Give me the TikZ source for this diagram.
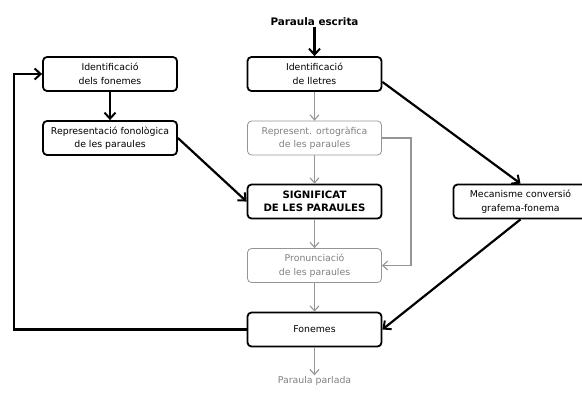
\documentclass[tikz,border=0pt]{standalone}
\usepackage{fontspec}
\setmainfont{DejaVu Sans}
\usetikzlibrary{arrows.meta}
\definecolor{lgray}{HTML}{959595}
\definecolor{tgray}{HTML}{808080}
\tikzset{
  txt/.style={font=\fontsize{9.4}{13.5}\selectfont},
  box/.style={draw=black, line width=1.8bp, rounded corners=4bp, minimum width=134bp, minimum height=34bp, align=center, inner sep=1bp, txt},
  gbox/.style={box, draw=lgray, line width=0.8bp, text=tgray},
  bk/.style={line width=2.2bp, -{Straight Barb[length=6bp,width=11bp,line width=2bp]}},
  gr/.style={draw=lgray, line width=1.2bp, -{Straight Barb[length=5bp,width=9bp,line width=1.1bp]}},
}
\begin{document}
\begin{tikzpicture}[x=1bp,y=-1bp]
\useasboundingbox (0,0) rectangle (582,394);
\node[box] (fon) at (110,74) {Identificació\\dels fonemes};
\node[box] (repf) at (110,138) {Representació fonològica\\de les paraules};
\node[box] (lle) at (314.5,74) {Identificació\\de lletres};
\node[gbox] (orto) at (314.5,138) {Represent. ortogràfica\\de les paraules};
\node[box, font=\fontsize{10.2}{13.5}\selectfont\bfseries] (sig) at (314.5,201.5) {SIGNIFICAT\\DE LES PARAULES};
\node[gbox] (pron) at (314.5,265.5) {Pronunciació\\de les paraules};
\node[box] (fnm) at (314.5,329.5) {Fonemes};
\node[box] (mec) at (520.5,201.5) {Mecanisme conversió\\grafema-fonema};
\node[font=\fontsize{10.4}{13.5}\selectfont\bfseries, inner sep=1bp] (pe) at (314.5,21.5) {Paraula escrita};
\node[txt, text=tgray, inner sep=1bp] (pp) at (314.5,381) {Paraula parlada};
\coordinate (loop) at (14,329.5);
\coordinate (gr1) at (411,138);
\draw[bk] (pe) -- (lle);
\draw[bk] (fon) -- (repf);
\draw[bk] (repf.east) -- (sig.west);
\draw[bk] ([yshift=10bp]lle.south east) -- (mec.north);
\draw[bk] (mec.south) -- (fnm.east);
\draw[bk, rounded corners=0] (fnm.west) -- (loop) |- (fon.west);
\draw[gr] (lle) -- (orto);
\draw[gr] (orto) -- (sig);
\draw[gr] (sig) -- (pron);
\draw[gr] (pron) -- (fnm);
\draw[gr] (fnm) -- (pp);
\draw[gr] (orto.east) -- (gr1) |- (pron.east);
\end{tikzpicture}
\end{document}
